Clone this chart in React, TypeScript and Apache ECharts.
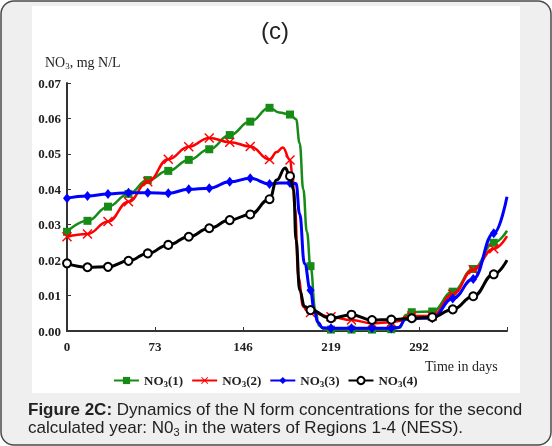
import React, { useEffect, useRef } from "react";
import * as echarts from "echarts";

// Days at which each curve carries a marker
const markerDays = [0, 17, 34, 51, 67, 84, 101, 118, 135, 152, 168, 185, 202, 219, 236, 253, 269, 286, 303, 320, 337, 354];

const xTicks = [0, 73, 146, 219, 292];
const yTicks = [0, 0.01, 0.02, 0.03, 0.04, 0.05, 0.06, 0.07];

const seriesNames = ["NO3(1)", "NO3(2)", "NO3(3)", "NO3(4)"];

// NO3 concentration, mg N/L, against day of the year
const region1: [number, number][] = [
  [0, 0.028], [17, 0.0311], [34, 0.0351], [51, 0.0387], [67, 0.0426], [84, 0.0452], [101, 0.0483],
  [118, 0.0513], [135, 0.0553], [152, 0.0591], [168, 0.063], [176, 0.0617], [185, 0.0611], [190, 0.0598],
  [193, 0.053], [196, 0.04], [199, 0.028], [202, 0.0183], [206, 0.006], [209, 0.0015], [214, 0.0004],
  [219, 0.0004], [236, 0.0004], [253, 0.0004], [269, 0.0005], [276, 0.0009], [281, 0.0045], [286, 0.0053],
  [303, 0.0055], [320, 0.0111], [337, 0.0175], [354, 0.0249], [365, 0.0283],
];

const region2: [number, number][] = [
  [0, 0.0266], [17, 0.0274], [34, 0.0309], [51, 0.0365], [67, 0.0421], [84, 0.0485], [101, 0.052],
  [118, 0.0545], [135, 0.0533], [152, 0.0521], [168, 0.0484], [174, 0.0505], [179, 0.0518], [185, 0.0483],
  [187, 0.044], [189, 0.035], [192, 0.015], [196, 0.0069], [199, 0.0057], [202, 0.0052], [219, 0.004],
  [236, 0.0031], [253, 0.0022], [269, 0.0025], [276, 0.0028], [281, 0.004], [286, 0.0042], [303, 0.0042],
  [320, 0.0104], [337, 0.0173], [354, 0.0232], [365, 0.0268],
];

const region3: [number, number][] = [
  [0, 0.0375], [17, 0.0381], [34, 0.0387], [51, 0.039], [67, 0.039], [84, 0.0389], [101, 0.04],
  [118, 0.0403], [135, 0.0421], [152, 0.0431], [168, 0.0415], [176, 0.0418], [185, 0.0418], [190, 0.0416],
  [193, 0.033], [197, 0.019], [202, 0.0115], [205, 0.006], [208, 0.0025], [212, 0.0009], [219, 0.0008],
  [236, 0.0008], [253, 0.0008], [269, 0.0008], [275, 0.001], [281, 0.0033], [286, 0.0036], [303, 0.0036],
  [320, 0.0092], [337, 0.0147], [354, 0.0276], [365, 0.0379],
];

const region4: [number, number][] = [
  [0, 0.0191], [17, 0.018], [34, 0.0181], [51, 0.0198], [67, 0.0219], [84, 0.0243], [101, 0.0266],
  [118, 0.029], [135, 0.0313], [152, 0.0329], [168, 0.0372], [174, 0.0426], [181, 0.046], [185, 0.0437],
  [188, 0.0398], [190, 0.0257], [193, 0.0116], [197, 0.0069], [202, 0.0059], [219, 0.0036], [236, 0.0046],
  [253, 0.0031], [269, 0.0032], [286, 0.0036], [303, 0.0039], [320, 0.0061], [337, 0.0098], [354, 0.016],
  [365, 0.02],
];

const SERIF = "'Liberation Serif', 'DejaVu Serif', serif";
const SANS = "'Liberation Sans', Arial, sans-serif";

const crossPath =
  "path://M1,0 L5,4 L9,0 L10,1 L6,5 L10,9 L9,10 L5,6 L1,10 L0,9 L4,5 L0,1 Z";

function toSeriesData(points: [number, number][]) {
  return points.map(([d, v]) =>
    markerDays.includes(d) ? { value: [d, v] } : { value: [d, v], symbol: "none" }
  );
}

export default function App() {
  const ref = useRef<HTMLDivElement>(null);

  useEffect(() => {
    if (!ref.current) return;
    const chart = echarts.init(ref.current, undefined, { renderer: "svg" });

    const styles = [
      { color: "#168c16", symbol: "rect", symbolSize: 8, width: 2.5, data: region1 },
      { color: "#ff0000", symbol: crossPath, symbolSize: 10, width: 2.5, data: region2 },
      { color: "#0000ff", symbol: "diamond", symbolSize: [8, 10], width: 3, data: region3 },
      { color: "#000000", symbol: "emptyCircle", symbolSize: 8, width: 3, data: region4 },
    ];

    const subRich = {
      n: { fontFamily: SERIF, fontWeight: "bold", fontSize: 13, color: "#222" },
      s: { fontFamily: SERIF, fontWeight: "bold", fontSize: 9, color: "#222", padding: [7, 0, 0, 0] },
    };

    chart.setOption({
      animation: false,
      grid: { left: 67, right: 45, top: 83, bottom: 115 },
      xAxis: {
        type: "value",
        min: 0,
        max: 365,
        interval: 73,
        axisLine: { lineStyle: { color: "#333", width: 2 } },
        axisTick: { inside: true, length: 4, lineStyle: { color: "#333", width: 1 } },
        axisLabel: {
          margin: 9,
          fontFamily: SERIF,
          fontWeight: "bold",
          fontSize: 13,
          color: "#222",
          formatter: (v: number) => (xTicks.includes(v) ? String(v) : ""),
        },
        splitLine: { show: false },
      },
      yAxis: {
        type: "value",
        min: 0,
        max: 0.07,
        interval: 0.01,
        axisLine: { show: true, lineStyle: { color: "#333", width: 2 } },
        axisTick: { show: true, inside: true, length: 4, lineStyle: { color: "#333", width: 1 } },
        axisLabel: {
          margin: 6,
          fontFamily: SERIF,
          fontWeight: "bold",
          fontSize: 13,
          color: "#222",
          formatter: (v: number) => {
            const t = yTicks.find((y) => Math.abs(y - v) < 1e-9);
            return t === undefined ? "" : t.toFixed(2);
          },
        },
        splitLine: { show: false },
      },
      legend: {
        left: 108,
        top: 369,
        itemWidth: 25,
        itemHeight: 9,
        itemGap: 8,
        data: seriesNames,
        formatter: (name: string) => "{n|NO}{s|3}{n|" + name.slice(3) + "}",
        textStyle: { rich: subRich },
      },
      graphic: [
        {
          type: "rect",
          z: -10,
          silent: true,
          shape: { x: 1, y: 1, width: 550, height: 444, r: 13 },
          style: { fill: "#efefef", stroke: "#4a4a4a", lineWidth: 1.5 },
        },
        {
          type: "rect",
          z: -9,
          silent: true,
          shape: { x: 32, y: 6, width: 488, height: 387 },
          style: { fill: "#ffffff" },
        },
        {
          type: "text",
          x: 275,
          y: 30,
          style: {
            text: "(c)",
            fontFamily: SANS,
            fontSize: 24,
            fill: "#222",
            align: "center",
            verticalAlign: "middle",
          },
        },
        {
          type: "text",
          x: 45,
          y: 62,
          style: {
            text: "{a|NO}{b|3}{a|, mg N/L}",
            verticalAlign: "middle",
            rich: {
              a: { fontFamily: SERIF, fontSize: 14, fill: "#222" },
              b: { fontFamily: SERIF, fontSize: 9, fill: "#222", padding: [7, 0, 0, 0] },
            },
          },
        },
        {
          type: "text",
          x: 425,
          y: 366,
          style: {
            text: "Time in days",
            fontFamily: SERIF,
            fontSize: 14,
            fill: "#222",
            verticalAlign: "middle",
          },
        },
        {
          type: "text",
          x: 28,
          y: 409,
          style: {
            text: "{b|Figure 2C:}{r| Dynamics of the N form concentrations for the second}",
            verticalAlign: "middle",
            rich: {
              b: { fontFamily: SANS, fontWeight: "bold", fontSize: 17, fill: "#222" },
              r: { fontFamily: SANS, fontSize: 17, fill: "#222" },
            },
          },
        },
        {
          type: "text",
          x: 28,
          y: 427,
          style: {
            text: "{r|calculated year: N0}{s|3}{r| in the waters of Regions 1-4 (NESS).}",
            verticalAlign: "middle",
            rich: {
              r: { fontFamily: SANS, fontSize: 17, fill: "#222" },
              s: { fontFamily: SANS, fontSize: 11, fill: "#222", padding: [10, 0, 0, 0] },
            },
          },
        },
      ],
      series: styles.map((s, i) => ({
        name: seriesNames[i],
        type: "line",
        smooth: 0.45,
        smoothMonotone: "x",
        symbol: s.symbol,
        symbolSize: s.symbolSize,
        showAllSymbol: true,
        lineStyle: { color: s.color, width: s.width },
        itemStyle: { color: s.color, borderWidth: i === 3 ? 1 : 0 },
        data: toSeriesData(s.data),
        z: 2 + i,
      })),
    });

    return () => chart.dispose();
  }, []);

  return (
    <div
      ref={ref}
      style={{ position: "fixed", left: 0, top: 0, width: 552, height: 446 }}
    />
  );
}
